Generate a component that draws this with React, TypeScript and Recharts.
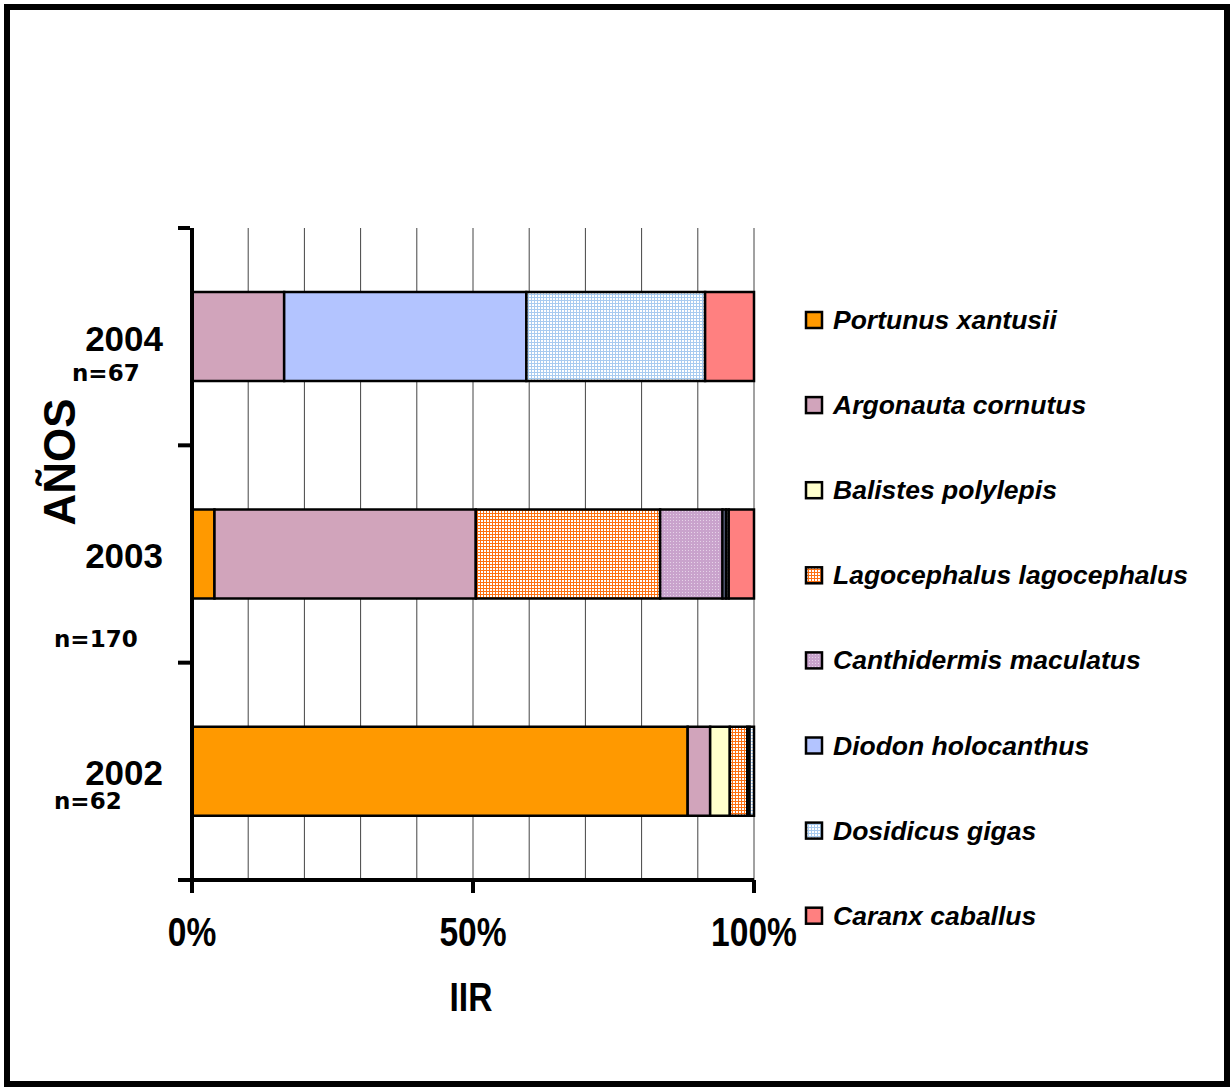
import React from 'react';
import { BarChart, Bar, XAxis, YAxis, CartesianGrid, Label } from 'recharts';

// ---- data ----
const years = ['2004', '2003', '2002'];
const sampleSizes = ['n=67', 'n=170', 'n=62'];

const portunus = [0, 4.0, 88.2];
const argonauta = [16.4, 46.5, 4.0];
const balistes = [0, 0, 3.5];
const lagocephalus = [0, 32.8, 3.1];
const canthidermis = [0, 11.1, 0];
const diodon = [43.1, 0.6, 0.4];
const dosidicus = [31.8, 0.5, 0.8];
const caranx = [8.7, 4.5, 0];

const xTicks = [0, 10, 20, 30, 40, 50, 60, 70, 80, 90, 100];
const xLabelTicks = [0, 50, 100];

const seriesKeys = ['portunus', 'argonauta', 'balistes', 'lagocephalus', 'canthidermis', 'diodon', 'dosidicus', 'caranx'];
const seriesNames = [
  'Portunus xantusii',
  'Argonauta cornutus',
  'Balistes polylepis',
  'Lagocephalus lagocephalus',
  'Canthidermis maculatus',
  'Diodon holocanthus',
  'Dosidicus gigas',
  'Caranx caballus',
];
const seriesValues = [portunus, argonauta, balistes, lagocephalus, canthidermis, diodon, dosidicus, caranx];

// ---- styles ----
const seriesFills = [
  '#FF9900',
  '#D1A4BB',
  '#FFFFCC',
  'url(#patLago)',
  'url(#patCanth)',
  '#B3C4FF',
  'url(#patDosi)',
  '#FF8080',
];

const W = 1230;
const H = 1087;
const Y_AXIS_W = 100;
const X_AXIS_H = 100;
const margin = { top: 228, right: 476, bottom: 207 - X_AXIS_H, left: 192 - Y_AXIS_W };
const plotH = 880 - 228;
const band = plotH / years.length;

const nLabelOffsets = [
  { dx: -120, dy: 44 },
  { dx: -138, dy: 93 },
  { dx: -138, dy: 38 },
];

const data = years.map((y, i) => {
  const row: any = { year: y };
  seriesKeys.forEach((k, j) => {
    row[k] = seriesValues[j][i];
  });
  return row;
});

const boldSans = '"Liberation Sans", Arial, sans-serif';
const NARROW = 0.84;

function YTick(props: any) {
  const { x, y, payload } = props;
  const i = years.indexOf(payload.value);
  const off = nLabelOffsets[i] || { dx: 0, dy: 0 };
  return (
    <g>
      <line x1={x - 2} x2={x - 14} y1={y - band / 2} y2={y - band / 2} stroke="#000" strokeWidth={4} />
      {i === years.length - 1 && (
        <line x1={x - 2} x2={x - 14} y1={y + band / 2} y2={y + band / 2} stroke="#000" strokeWidth={4} />
      )}
      <text x={x - 29} y={y + 14} textAnchor="end" fontFamily={boldSans} fontWeight="bold" fontSize={35} fill="#000">
        {payload.value}
      </text>
      <text x={x + off.dx} y={y + off.dy} textAnchor="start" fontFamily='"DejaVu Sans", Verdana, sans-serif' fontWeight="bold" fontSize={23} fill="#000">
        {sampleSizes[i]}
      </text>
    </g>
  );
}

function XTick(props: any) {
  const { x, y, payload } = props;
  if (!xLabelTicks.includes(payload.value)) return <g />;
  return (
    <g>
      <line x1={x} x2={x} y1={y} y2={y + 13} stroke="#000" strokeWidth={4} />
      <g transform={`translate(${x}, ${y + 66}) scale(${NARROW}, 1)`}>
        <text x={0} y={0} textAnchor="middle" fontFamily={boldSans} fontWeight="bold" fontSize={40} fill="#000">
          {`${payload.value}%`}
        </text>
      </g>
    </g>
  );
}

function XTitle(props: any) {
  const { viewBox } = props;
  const cx = viewBox.x + viewBox.width / 2 - 2;
  const by = viewBox.y + 131;
  return (
    <g transform={`translate(${cx}, ${by}) scale(${NARROW}, 1)`}>
      <text x={0} y={0} textAnchor="middle" fontFamily={boldSans} fontWeight="bold" fontSize={40} fill="#000">
        IIR
      </text>
    </g>
  );
}

function YTitle(props: any) {
  const { viewBox } = props;
  const cx = viewBox.x + viewBox.width - 117;
  const cy = viewBox.y + 234;
  return (
    <text
      x={cx}
      y={cy}
      transform={`rotate(-90, ${cx}, ${cy})`}
      textAnchor="middle"
      fontFamily={boldSans}
      fontWeight="bold"
      fontSize={44}
      fill="#000"
    >
      AÑOS
    </text>
  );
}

function PatternDefs() {
  return (
    <defs>
      <pattern id="patLago" width={3} height={3} patternUnits="userSpaceOnUse">
        <rect width={3} height={3} fill="#FF7010" />
        <rect x={1} y={1} width={2} height={2} fill="#FFFFFF" />
      </pattern>
      <pattern id="patCanth" width={3} height={3} patternUnits="userSpaceOnUse">
        <rect width={3} height={3} fill="#C9A3CC" />
        <rect x={1} y={1} width={1} height={1} fill="#E6D3E8" />
      </pattern>
      <pattern id="patDosi" width={3} height={3} patternUnits="userSpaceOnUse">
        <rect width={3} height={3} fill="#A8CBF0" />
        <rect x={1} y={1} width={2} height={2} fill="#FFFFFF" />
      </pattern>
    </defs>
  );
}

function LegendBox() {
  return (
    <svg width={430} height={660} style={{ position: 'absolute', left: 790, top: 290 }}>
      <PatternDefs />
      {seriesNames.map((name, i) => {
        const cy = 30 + i * 85.1;
        return (
          <g key={name}>
            <rect x={16} y={cy - 8} width={16} height={16} fill={seriesFills[i]} stroke="#000" strokeWidth={2.5} />
            <text x={43} y={cy + 9} fontFamily={boldSans} fontWeight="bold" fontStyle="italic" fontSize={26.5} fill="#000">
              {name}
            </text>
          </g>
        );
      })}
    </svg>
  );
}

export default function App() {
  return (
    <div style={{ position: 'absolute', left: 0, top: 0, width: W, height: H, background: '#fff' }}>
      <div
        style={{
          position: 'absolute',
          left: 4,
          top: 4,
          width: W - 4,
          height: H - 4,
          border: '6px solid #000',
          boxSizing: 'border-box',
        }}
      />
      <div style={{ position: 'absolute', left: 0, top: 0 }}>
        <BarChart width={W} height={H} data={data} layout="vertical" margin={margin} barCategoryGap="29.5%">
          <PatternDefs />
          <CartesianGrid horizontal={false} vertical={true} stroke="#444" strokeWidth={1} />
          <XAxis
            type="number"
            domain={[0, 100]}
            ticks={xTicks}
            interval={0}
            height={X_AXIS_H}
            tickSize={0}
            tickMargin={0}
            tickLine={false}
            axisLine={{ stroke: '#000', strokeWidth: 4 }}
            tick={<XTick />}
          >
            <Label content={<XTitle />} />
          </XAxis>
          <YAxis
            type="category"
            dataKey="year"
            width={Y_AXIS_W}
            tickSize={0}
            tickMargin={0}
            tickLine={false}
            axisLine={{ stroke: '#000', strokeWidth: 4 }}
            tick={<YTick />}
            interval={0}
          >
            <Label content={<YTitle />} />
          </YAxis>
          {seriesKeys.map((k, i) => (
            <Bar
              key={k}
              dataKey={k}
              name={seriesNames[i]}
              stackId="a"
              fill={seriesFills[i]}
              stroke="#000"
              strokeWidth={2.5}
              isAnimationActive={false}
            />
          ))}
        </BarChart>
      </div>
      <LegendBox />
    </div>
  );
}
